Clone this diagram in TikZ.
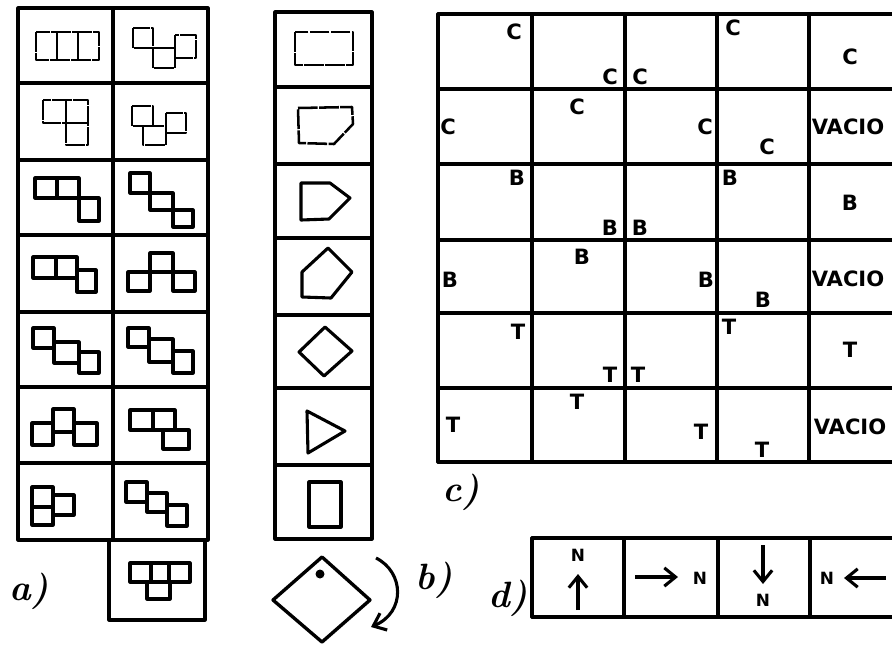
\documentclass[tikz,border=0pt]{standalone}
\usepackage{fontspec}
\newfontfamily\handfont{DejaVu Sans}
\usetikzlibrary{positioning,arrows.meta}

\tikzset{
  ink/.style={line width=2.2pt, line cap=round, line join=round},
  piece/.style={line width=2.2pt, line join=round},
  rough/.style={piece, line width=1.8pt, dash pattern=on 14pt off 1pt},
  tag/.style={font=\handfont\bfseries\fontsize{15}{15}\selectfont, inner sep=0pt},
  ntag/.style={font=\handfont\bfseries\fontsize{12}{12}\selectfont, inner sep=0pt},
  panel/.style={font=\bfseries\itshape\fontsize{26}{26}\selectfont, inner sep=0pt},
  arr/.style={-{Straight Barb[length=8pt,width=13pt,line width=2.2pt]}, line width=2.2pt},
}

\begin{document}
\begin{tikzpicture}[x=0.025cm, y=-0.025cm, >=Stealth]
    \useasboundingbox (0,0) rectangle (892,646);

    % a) table of pieces
    \draw[ink] (18,8) rectangle (208,540);
    \draw[ink] (113,8) -- (113,540);
    \foreach \y in {83,160,235,312,387,463}
      \draw[ink] (18,\y) -- (208,\y);
    \draw[ink] (109,540) rectangle (205,620);

    % rows 1-2 (faint copy)
    \foreach \xa/\ya/\xb/\yb in {36/32/57/60, 57/32/78/60, 78/32/99/60,
        133/28/153/48, 153/48/175/68, 175/35/196/58,
        43/100/66/123, 66/100/88/123, 66/123/88/145,
        132/106/153/126, 143/126/166/145, 166/113/186/133}
      \draw[rough] (\xa,\ya) rectangle (\xb,\yb);

    % rows 3-8
    \foreach \xa/\ya/\xb/\yb in {35/178/57/198, 57/178/79/198, 79/198/99/221,
        130/173/150/193, 150/193/173/210, 173/210/193/227,
        33/257/56/278, 56/257/77/278, 77/270/96/292,
        150/253/173/272, 128/272/150/291, 173/272/195/291,
        33/328/54/348, 54/342/79/363, 79/352/99/373,
        128/328/149/347, 149/339/173/362, 173/351/193/373,
        32/423/53/445, 53/409/74/432, 74/423/97/445,
        130/410/153/430, 153/410/175/430, 163/430/189/449,
        32/487/53/507, 32/507/53/525, 53/495/74/515,
        126/482/147/502, 147/493/167/512, 167/505/187/526,
        130/563/151/582, 169/563/190/582, 147/582/170/599}
      \draw[piece] (\xa,\ya) rectangle (\xb,\yb);
    \draw[piece] (151,563) -- (169,563);

    \node[panel] (lblA) at (29,591) {a)};

    % b) column of shapes
    \draw[ink] (275,12) rectangle (372,539);
    \foreach \y in {87,164,238,315,388,465}
      \draw[ink] (275,\y) -- (372,\y);

    \draw[rough] (295,32) rectangle (353,65);
    \draw[rough] (298,108) -- (352,107) -- (353,124) -- (334,144) -- (299,143) -- cycle;
    \draw[piece] (301,183) -- (330,183) -- (350,198) -- (329,219) -- (301,220) -- cycle;
    \draw[piece] (328,248) -- (352,272) -- (331,298) -- (302,297) -- (302,272) -- cycle;
    \draw[piece] (325,327) -- (352,351) -- (324,376) -- (299,352) -- cycle;
    \draw[piece] (307,411) -- (345,431) -- (308,453) -- cycle;
    \draw[piece] (309,482) rectangle (341,527);

    % rotated piece with turn arrow
    \draw[piece, line width=2.4pt] (322,557) -- (370,600) -- (322,642) -- (273,600) -- cycle;
    \fill (320,574) circle (4.5);
    \coordinate (turnA) at (376,558);
    \coordinate (turnB) at (371,627);
    \draw[arr] (turnA) .. controls (404,572) and (406,612) .. (turnB);

    \node[panel] (lblB) at (434,580) {b)};

    % c) grid
    \foreach \x in {438,532,625,717,809}
      \draw[ink] (\x,14) -- (\x,462);
    \foreach \y in {14,89,164,240,313,388,462}
      \draw[ink] (438,\y) -- (892,\y);

    \foreach \x/\y/\t [count=\i] in {514/32/C, 610/77/C, 640/77/C, 733/28/C, 850/57/C,
        577/107/C, 448/127/C, 705/127/C, 767/147/C, 848/127/VACIO,
        517/178/B, 730/178/B, 850/203/B, 610/228/B, 640/228/B,
        450/280/B, 582/257/B, 706/280/B, 763/300/B, 848/279/VACIO,
        518/332/T, 610/375/T, 638/375/T, 729/327/T, 850/350/T,
        577/402/T, 453/425/T, 701/432/T, 762/450/T, 850/427/VACIO}
      \node[tag] (cl\i) at (\x,\y) {\t};

    \node[panel] (lblC) at (461,492) {c)};

    % d) headings
    \draw[ink] (532,538) -- (892,538);
    \draw[ink] (532,617) -- (892,617);
    \foreach \x in {532,624,718,810}
      \draw[ink] (\x,538) -- (\x,617);

    \node[ntag] (nUp) at (578,555) {N};
    \coordinate (upT) at (578,610);
    \coordinate (upH) at (578,574);
    \draw[arr] (upT) -- (upH);

    \node[ntag] (nRight) at (700,578) {N};
    \coordinate (rtT) at (635,577);
    \coordinate (rtH) at (678,577);
    \draw[arr] (rtT) -- (rtH);

    \node[ntag] (nDown) at (763,600) {N};
    \coordinate (dnT) at (763,545);
    \coordinate (dnH) at (763,584);
    \draw[arr] (dnT) -- (dnH);

    \node[ntag] (nLeft) at (827,578) {N};
    \coordinate (lfT) at (886,578);
    \coordinate (lfH) at (844,578);
    \draw[arr] (lfT) -- (lfH);

    \node[panel] (lblD) at (508,598) {d)};
\end{tikzpicture}
\end{document}
